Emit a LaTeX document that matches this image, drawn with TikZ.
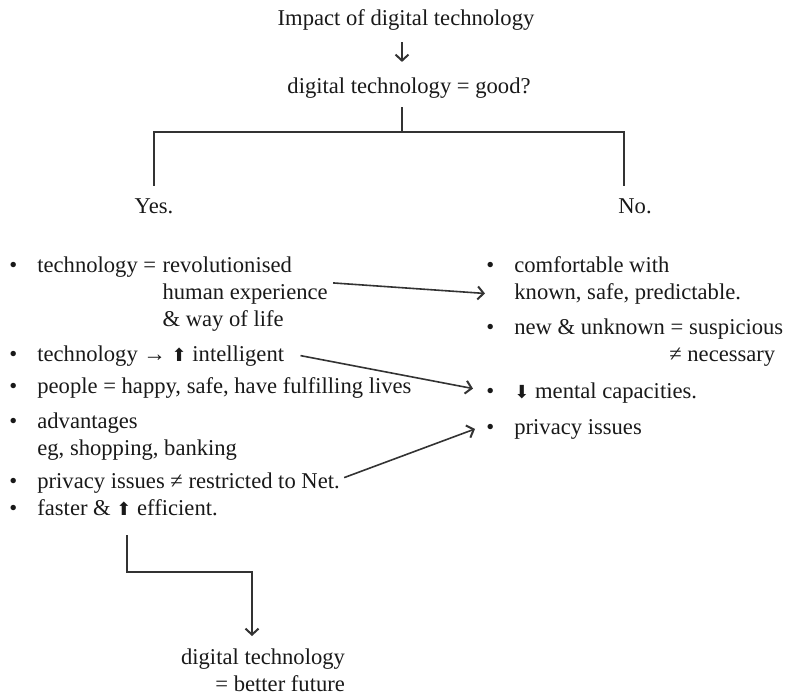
\documentclass[tikz,border=0pt]{standalone}
\usepackage{fontspec}
\setmainfont{Liberation Serif}
\newfontfamily\symfont{DejaVu Sans}
\usetikzlibrary{arrows.meta, positioning}
\definecolor{ink}{gray}{0.1}
\definecolor{rulegray}{gray}{0.2}
\tikzset{txt/.style={inner sep=0pt, text=ink, font=\fontsize{11.3}{13.5}\selectfont},
    itm/.style={txt, anchor=base west},
    ln/.style={draw=rulegray, line width=0.8pt},
    arr/.style={ln, -{Straight Barb[length=3pt,width=6.5pt,line width=1pt]}}}
\newcommand{\bul}{\llap{\textbullet\hspace{10pt}}}
\newcommand{\upar}{{\symfont\fontsize{9}{9}\selectfont ⬆}}
\newcommand{\dnar}{{\symfont\fontsize{9}{9}\selectfont ⬇}}

\begin{document}
\begin{tikzpicture}[x=0.5pt, y=-0.5pt]
            \useasboundingbox (0,0) rectangle (787,693);
            \node[txt, anchor=base] (title) at (406,25) {Impact of digital technology};
            \node[txt, anchor=base] (quest) at (409,93) {digital technology = good?};
            \coordinate (fork) at (402,132);
            \node[txt, anchor=base] (yes) at (154,213) {Yes.};
            \node[txt, anchor=base west] (no) at (618,213) {No.};
            \node[itm] (rev) at (37,272) {\bul technology =};
            \node[itm] (revw) at ([xshift=2.8pt]rev.base east) {revolutionised};
            \node[itm] (hum) at ([yshift=-13.5pt]revw.base west) {human experience};
            \node[itm] (way) at ([yshift=-13.5pt]hum.base west) {\& way of life};
            \node[itm] (intel) at (37,361) {\bul technology \textbf{→} \upar\ intelligent};
            \node[itm] (happy) at (37,393) {\bul people = happy, safe, have fulfilling lives};
            \node[itm] (adv) at (37,428) {\bul advantages};
            \node[itm] (eg) at (37,455) {eg, shopping, banking};
            \node[itm] (net) at (37,488) {\bul privacy issues ≠ restricted to Net.};
            \node[itm] (fast) at (37,515) {\bul faster \& \upar\ efficient.};
            \node[itm] (comf) at (514,272) {\bul comfortable with};
            \node[itm] (known) at (514,299) {known, safe, predictable.};
            \node[itm] (new) at (514,334) {\bul new \& unknown = suspicious};
            \node[txt, anchor=base east] (nec) at ([xshift=-4pt, yshift=-13.5pt]new.base east) {≠ necessary};
            \node[itm] (ment) at (514,398) {\bul \dnar\ mental capacities.};
            \node[itm] (priv) at (514,434) {\bul privacy issues};
            \node[txt, anchor=north, align=right] (fut) at (263,648) {digital technology\\= better future};
            \coordinate (up) at (127,535);
            \coordinate (tip) at (252,636);
            \draw[arr, shorten <=6pt, shorten >=7.5pt] (title.south -| fork) -- (quest.north -| fork);
            \draw[ln, shorten <=4.5pt] (quest.south -| fork) -- (fork);
            \draw[ln, shorten <=6pt] (yes.north) |- (fork) -| ([xshift=3pt, yshift=6pt]no.north west);
            \draw[arr] ([xshift=2.5pt]hum.north east) -- ([xshift=-14.5pt]known.west);
            \draw[arr] ([xshift=8pt]intel.east) -- ([xshift=-20.5pt, yshift=2pt]ment.west);
            \draw[arr] ([xshift=2pt, yshift=2.5pt]net.east) -- ([xshift=-19.5pt]priv.west);
            \draw[arr] (up) -- (up |- 0,572) -| (tip);
        \end{tikzpicture}
\end{document}
